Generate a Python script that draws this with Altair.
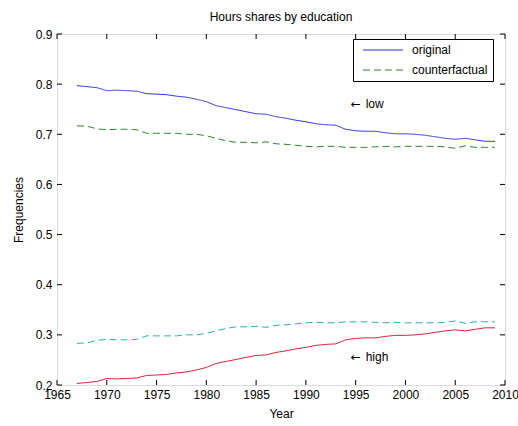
import altair as alt
import pandas as pd

years = list(range(1967, 2010))

low_original = [0.797, 0.795, 0.793, 0.787, 0.788, 0.787, 0.786, 0.781, 0.780, 0.779,
                0.776, 0.774, 0.770, 0.765, 0.757, 0.753, 0.749, 0.745, 0.741, 0.740,
                0.735, 0.732, 0.728, 0.725, 0.721, 0.719, 0.718, 0.710, 0.707, 0.706,
                0.706, 0.703, 0.701, 0.701, 0.700, 0.698, 0.695, 0.692, 0.690, 0.692,
                0.689, 0.686, 0.686]
low_counter = [0.717, 0.716, 0.711, 0.709, 0.710, 0.710, 0.709, 0.702, 0.702, 0.702,
               0.702, 0.700, 0.700, 0.697, 0.692, 0.687, 0.684, 0.684, 0.683, 0.685,
               0.681, 0.680, 0.678, 0.676, 0.675, 0.676, 0.676, 0.674, 0.674, 0.674,
               0.675, 0.676, 0.675, 0.676, 0.676, 0.676, 0.676, 0.675, 0.672, 0.677,
               0.674, 0.674, 0.674]
high_original = [0.203, 0.205, 0.207, 0.213, 0.212, 0.213, 0.214, 0.219, 0.220, 0.221,
                 0.224, 0.226, 0.230, 0.235, 0.243, 0.247, 0.251, 0.255, 0.259, 0.260,
                 0.265, 0.268, 0.272, 0.275, 0.279, 0.281, 0.282, 0.290, 0.293, 0.294,
                 0.294, 0.297, 0.299, 0.299, 0.300, 0.302, 0.305, 0.308, 0.310, 0.308,
                 0.311, 0.314, 0.314]
high_counter = [0.283, 0.284, 0.289, 0.291, 0.290, 0.290, 0.291, 0.298, 0.298, 0.298,
                0.298, 0.300, 0.300, 0.303, 0.308, 0.313, 0.316, 0.316, 0.317, 0.315,
                0.319, 0.320, 0.322, 0.324, 0.325, 0.324, 0.324, 0.326, 0.326, 0.326,
                0.325, 0.324, 0.325, 0.324, 0.324, 0.324, 0.324, 0.325, 0.328, 0.323,
                0.326, 0.326, 0.326]

x_ticks = list(range(1965, 2011, 5))
y_ticks = [0.2, 0.3, 0.4, 0.5, 0.6, 0.7, 0.8, 0.9]

annot_word = ["low", "high"]
annot_year = [1994.5, 1994.5]
annot_value = [0.760, 0.256]

W, H = 448, 351
FONT = "Liberation Sans"

rows = []
for name, vals, grp in [("original", low_original, "low"),
                        ("counterfactual", low_counter, "low"),
                        ("original", high_original, "high"),
                        ("counterfactual", high_counter, "high")]:
    for y, v in zip(years, vals):
        rows.append({"year": y, "value": v, "series": name, "group": grp})
df = pd.DataFrame(rows)

xs = alt.Scale(domain=[1965, 2010], nice=False, zero=False)
ys = alt.Scale(domain=[0.2, 0.9], nice=False, zero=False)

x_enc = alt.X("year:Q", scale=xs,
              axis=alt.Axis(title="Year", values=x_ticks, format="d", ticks=False,
                            domain=False, grid=False, labelPadding=4, titlePadding=8,
                            labelFontSize=12, titleFontSize=12, labelFlush=False,
                            titleFontWeight="normal"))
y_enc = alt.Y("value:Q", scale=ys,
              axis=alt.Axis(title="Frequencies", values=y_ticks, format=".1f", ticks=False,
                            domain=False, grid=False, labelPadding=5, titlePadding=10,
                            labelFontSize=12, titleFontSize=12, titleFontWeight="normal"))

low = alt.Chart(df).transform_filter(alt.datum.group == "low").mark_line(strokeWidth=1).encode(
    x=x_enc, y=y_enc,
    color=alt.Color("series:N",
                    scale=alt.Scale(domain=["original", "counterfactual"],
                                    range=["#3030d4", "#2a8a2a"]),
                    legend=alt.Legend(title=None, orient="none", legendX=296, legendY=5,
                                      symbolType="M-20,0H20", symbolSize=4,
                                      symbolStrokeWidth=1, labelFontSize=12,
                                      labelFont=FONT, labelColor="black",
                                      strokeColor="black",
                                      fillColor="white", padding=5, rowPadding=8,
                                      labelOffset=23, symbolOffset=19)),
    strokeDash=alt.StrokeDash("series:N",
                              scale=alt.Scale(domain=["original", "counterfactual"],
                                              range=[[1, 0], [7, 4]]),
                              legend=None),
)

high_orig = alt.Chart(df).transform_filter(
    (alt.datum.group == "high") & (alt.datum.series == "original")
).mark_line(strokeWidth=1, color="#d8243c").encode(x="year:Q", y="value:Q")

high_cf = alt.Chart(df).transform_filter(
    (alt.datum.group == "high") & (alt.datum.series == "counterfactual")
).mark_line(strokeWidth=1, color="#22b4b4", strokeDash=[7, 4]).encode(x="year:Q", y="value:Q")

xt = pd.DataFrame({"year": x_ticks})
yt = pd.DataFrame({"value": y_ticks})

xt_bottom = alt.Chart(xt).mark_rule(color="black", strokeWidth=1).encode(
    x="year:Q", y=alt.value(H), y2=alt.value(H - 5))
xt_top = alt.Chart(xt).mark_rule(color="black", strokeWidth=1).encode(
    x="year:Q", y=alt.value(0), y2=alt.value(5))
yt_left = alt.Chart(yt).mark_rule(color="black", strokeWidth=1).encode(
    y="value:Q", x=alt.value(0), x2=alt.value(5))
yt_right = alt.Chart(yt).mark_rule(color="black", strokeWidth=1).encode(
    y="value:Q", x=alt.value(W), x2=alt.value(W - 5))

adf = pd.DataFrame({"word": annot_word, "year": annot_year, "value": annot_value})
arrow = alt.Chart(adf).mark_text(
    align="left", baseline="middle", fontSize=12, font="DejaVu Sans", color="black", text="\u2190"
).encode(x="year:Q", y="value:Q")
word = alt.Chart(adf).mark_text(
    align="left", baseline="middle", fontSize=12, font=FONT, color="black", dx=15
).encode(x="year:Q", y="value:Q", text="word:N")

chart = alt.layer(low, high_orig, high_cf, xt_bottom, xt_top, yt_left, yt_right, arrow, word).properties(
    width=W, height=H,
    title=alt.TitleParams("Hours shares by education", fontSize=12, font=FONT,
                          fontWeight="normal", anchor="middle", offset=4, color="black"),
    autosize=alt.AutoSizeParams(type="none"),
    padding={"left": 57, "top": 34, "right": 13, "bottom": 41},
).configure_view(stroke="black", strokeWidth=1).configure_axis(
    labelFont=FONT, titleFont=FONT, labelColor="black", titleColor="black",
    titleFontWeight="normal"
).configure(background="white")

chart.save("out.html", embed_options={"renderer": "svg", "actions": False})
